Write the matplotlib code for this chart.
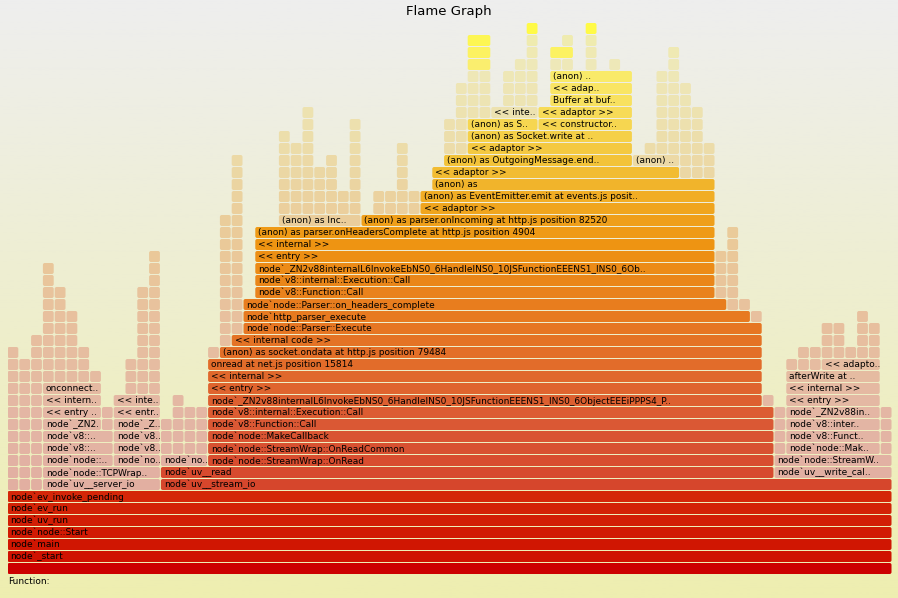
import numpy as np
import matplotlib
matplotlib.use("Agg")
import matplotlib.pyplot as plt
from matplotlib.patches import FancyBboxPatch

plt.rcParams["font.family"] = "DejaVu Sans"

# ── Data: frames as (depth, start sample, width in samples, label) ────────────
N_SAMPLES = 75
MAX_DEPTH = 46

stack_base = [
    (0, 0, 75, ""),
    (1, 0, 75, "node`_start"),
    (2, 0, 75, "node`main"),
    (3, 0, 75, "node`node::Start"),
    (4, 0, 75, "node`uv_run"),
    (5, 0, 75, "node`ev_run"),
    (6, 0, 75, "node`ev_invoke_pending"),
]

stack_hot = [
    (7, 13, 62, "node`uv__stream_io"),
    (8, 13, 52, "node`uv__read"),
    (9, 17, 48, "node`node::StreamWrap::OnRead"),
    (10, 17, 48, "node`node::StreamWrap::OnReadCommon"),
    (11, 17, 48, "node`node::MakeCallback"),
    (12, 17, 48, "node`v8::Function::Call"),
    (13, 17, 48, "node`v8::internal::Execution::Call"),
    (14, 17, 47, "node`_ZN2v88internalL6InvokeEbNS0_6HandleINS0_10JSFunctionEEENS1_INS0_6ObjectEEEiPPPS4_P.."),
    (15, 17, 47, "<< entry >>"),
    (16, 17, 47, "<< internal >>"),
    (17, 17, 47, "onread at net.js position 15814"),
    (18, 18, 46, "(anon) as socket.ondata at http.js position 79484"),
    (19, 19, 45, "<< internal code >>"),
    (20, 20, 44, "node`node::Parser::Execute"),
    (21, 20, 43, "node`http_parser_execute"),
    (22, 20, 41, "node`node::Parser::on_headers_complete"),
    (23, 21, 39, "node`v8::Function::Call"),
    (24, 21, 39, "node`v8::internal::Execution::Call"),
    (25, 21, 39, "node`_ZN2v88internalL6InvokeEbNS0_6HandleINS0_10JSFunctionEEENS1_INS0_6Ob.."),
    (26, 21, 39, "<< entry >>"),
    (27, 21, 39, "<< internal >>"),
    (28, 21, 39, "(anon) as parser.onHeadersComplete at http.js position 4904"),
    (29, 30, 30, "(anon) as parser.onIncoming at http.js position 82520"),
    (30, 35, 25, "<< adaptor >>"),
    (31, 35, 25, "(anon) as EventEmitter.emit at events.js posit.."),
    (32, 36, 24, "(anon) as"),
    (33, 36, 21, "<< adaptor >>"),
    (34, 37, 16, "(anon) as OutgoingMessage.end.."),
    (35, 39, 14, "<< adaptor >>"),
    (36, 39, 14, "(anon) as Socket.write at .."),
    (37, 39, 6, "(anon) as S.."),
    (37, 45, 8, "<< constructor.."),
    (38, 45, 8, "<< adaptor >>"),
    (39, 46, 7, "Buffer at buf.."),
    (40, 46, 7, "<< adap.."),
    (41, 46, 7, "(anon) .."),
    (42, 39, 2, ""), (43, 39, 2, ""), (44, 39, 2, ""),
    (43, 46, 2, ""),
    (45, 44, 1, ""), (45, 49, 1, ""),
]

stack_faded = [
    (7, 3, 10, "node`uv__server_io"),
    (8, 3, 10, "node`node::TCPWrap.."),
    (8, 65, 10, "node`uv__write_cal.."),
    (9, 3, 6, "node`node::.."),
    (9, 9, 4, "node`no.."),
    (9, 13, 4, "node`no.."),
    (9, 65, 10, "node`node::StreamW.."),
    (10, 3, 6, "node`v8::.."),
    (10, 9, 4, "node`v8.."),
    (10, 66, 8, "node`node::Mak.."),
    (11, 3, 6, "node`v8::.."),
    (11, 9, 4, "node`v8.."),
    (11, 66, 8, "node`v8::Funct.."),
    (12, 3, 5, "node`_ZN2."),
    (12, 9, 4, "node`_Z.."),
    (12, 66, 8, "node`v8::inter.."),
    (13, 3, 5, "<< entry .."),
    (13, 9, 4, "<< entr.."),
    (13, 66, 8, "node`_ZN2v88in.."),
    (14, 3, 5, "<< intern.."),
    (14, 9, 4, "<< inte.."),
    (14, 66, 8, "<< entry >>"),
    (15, 3, 5, "onconnect.."),
    (15, 66, 8, "<< internal >>"),
    (16, 66, 8, "afterWrite at .."),
    (17, 69, 5, "<< adapto.."),
    (29, 23, 7, "(anon) as Inc.."),
    (34, 53, 4, "(anon) .."),
    (38, 41, 4, "<< inte.."),
]

# unlabeled one-sample frames, given as runs (depth, from, to)
pale_left = [
    (7, 0, 3), (8, 0, 3), (9, 0, 3),
    (10, 0, 3), (10, 13, 17), (11, 0, 3), (11, 13, 17),
    (12, 0, 3), (12, 8, 9), (12, 13, 17),
    (13, 0, 3), (13, 8, 9), (13, 14, 17),
    (14, 0, 3), (14, 14, 15), (15, 0, 3), (15, 10, 13),
    (16, 0, 8), (16, 10, 13), (17, 0, 7), (17, 10, 13),
    (18, 0, 1), (18, 2, 7), (18, 11, 13), (18, 17, 18),
    (19, 2, 6), (19, 11, 13), (19, 18, 19),
    (20, 3, 6), (20, 11, 13), (20, 18, 20),
    (21, 3, 6), (21, 11, 13), (21, 18, 20),
    (22, 3, 5), (22, 11, 13), (22, 18, 20),
    (23, 3, 5), (23, 11, 13), (23, 18, 20),
    (24, 3, 4), (24, 12, 13), (24, 18, 20),
    (25, 3, 4), (25, 12, 13), (25, 18, 20),
    (26, 12, 13), (26, 18, 20), (27, 18, 20), (28, 18, 20), (29, 18, 20),
    (30, 19, 20), (31, 19, 20), (32, 19, 20), (33, 19, 20), (34, 19, 20),
]

pale_right = [
    (10, 65, 66), (10, 74, 75), (11, 65, 66), (11, 74, 75),
    (12, 65, 66), (12, 74, 75), (13, 65, 66), (13, 74, 75),
    (14, 64, 65), (17, 66, 69), (18, 67, 74),
    (19, 69, 71), (19, 72, 74), (20, 69, 71), (20, 72, 74),
    (21, 63, 64), (21, 72, 73), (22, 61, 63),
    (23, 60, 62), (24, 60, 62), (25, 60, 62), (26, 60, 62),
    (27, 61, 62), (28, 61, 62),
]

pale_top = [
    (30, 23, 30), (30, 31, 35), (31, 23, 30), (31, 31, 35),
    (32, 23, 28), (32, 29, 30), (32, 33, 34),
    (33, 23, 28), (33, 29, 30), (33, 33, 34), (33, 57, 60),
    (34, 23, 26), (34, 27, 28), (34, 29, 30), (34, 33, 34), (34, 57, 60),
    (35, 23, 26), (35, 29, 30), (35, 33, 34), (35, 37, 39), (35, 54, 60),
    (36, 23, 24), (36, 25, 26), (36, 29, 30), (36, 37, 39), (36, 55, 59),
    (37, 25, 26), (37, 29, 30), (37, 37, 39), (37, 55, 59),
    (38, 25, 26), (38, 38, 41), (38, 55, 59),
    (39, 38, 41), (39, 42, 45), (39, 55, 58),
    (40, 38, 41), (40, 42, 45), (40, 55, 58),
    (41, 39, 41), (41, 42, 45), (41, 55, 57),
    (42, 43, 45), (42, 46, 48), (42, 49, 50), (42, 51, 52), (42, 56, 57),
    (43, 44, 45), (43, 49, 50), (43, 56, 57),
    (44, 44, 45), (44, 47, 48), (44, 49, 50),
]

# ── Style ─────────────────────────────────────────────────────────────────────
DEPTH_STOPS = [0, 1, 6, 7, 12, 17, 22, 27, 30, 33, 36, 39, 42, 45]
RGB_STOPS = np.array([
    (204, 0, 0), (207, 18, 0), (212, 38, 8), (214, 70, 44), (218, 88, 52),
    (226, 108, 42), (232, 125, 30), (238, 148, 18), (240, 165, 30),
    (242, 188, 50), (245, 208, 72), (248, 225, 95), (250, 238, 110),
    (255, 250, 70),
]) / 255.0
FADE_MIX = 0.34                                  # share of the hot colour
FADE_BASE = np.array([232, 229, 222]) / 255.0
PX_X = 11.8      # pixels per sample
PX_Y = 12.0      # pixels per level
FONT = 6.5


def depth_color(d):
    return np.array([np.interp(d, DEPTH_STOPS, RGB_STOPS[:, k]) for k in range(3)])


def draw_frame(ax, d, s, w, label, hot):
    gx, gy = 1.0 / PX_X, 1.0 / PX_Y
    col = depth_color(d)
    if not hot:
        col = FADE_MIX * col + (1 - FADE_MIX) * FADE_BASE
    box = FancyBboxPatch((s, d + gy), w - gx, 1 - gy,
                         boxstyle="round,pad=0,rounding_size=0.16",
                         facecolor=tuple(col), edgecolor="none")
    ax.add_patch(box)
    if label:
        ax.text(s + 3 / PX_X, d + 0.52, label, ha="left", va="center",
                fontsize=FONT, color="black", clip_on=True)


fig = plt.figure(figsize=(8.98, 5.98), dpi=100)

# background gradient, as in flamegraph.pl (#eeeeee -> #eeeeb0)
bg = fig.add_axes([0, 0, 1, 1])
grad = np.linspace(0, 1, 256)[:, None, None]
top = np.array([0xee, 0xee, 0xee]) / 255
bot = np.array([0xee, 0xee, 0xb0]) / 255
bg.imshow(top * (1 - grad) + bot * grad, aspect="auto", extent=[0, 1, 0, 1])
bg.set_axis_off()

ax = fig.add_axes([7.5 / 898, 23 / 598, 885 / 898, 552 / 598])
ax.set_xlim(0, N_SAMPLES)
ax.set_ylim(0, MAX_DEPTH)
ax.set_axis_off()

for d, s, w, lab in stack_base + stack_hot:
    draw_frame(ax, d, s, w, lab, True)
for d, s, w, lab in stack_faded:
    draw_frame(ax, d, s, w, lab, False)
for d, a, b in pale_left + pale_right + pale_top:
    for s in range(a, b):
        draw_frame(ax, d, s, 1, "", False)

fig.text(0.5, 1 - 12 / 598, "Flame Graph", ha="center", va="center",
         fontsize=9.5, color="black")
fig.text(8 / 898, 1 - 582 / 598, "Function:", ha="left", va="center",
         fontsize=FONT, color="black")

fig.savefig("out.png", dpi=100)
